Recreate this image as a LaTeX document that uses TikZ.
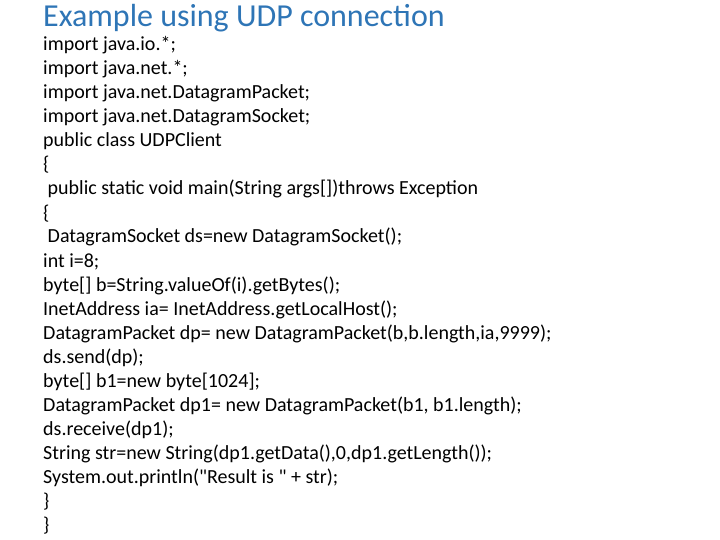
\documentclass[tikz,border=0pt]{standalone}
\usepackage{fontspec}
\setmainfont{Carlito}
\newfontfamily\codefont{Carlito}
\usetikzlibrary{positioning}
\definecolor{titleblue}{RGB}{46,117,182}
\tikzset{
    % slide title
    titletext/.style={anchor=base west, inner sep=0pt, font=\fontsize{32}{34}\selectfont, text=titleblue},
    % one line of code
    codeline/.style={anchor=base west, inner sep=0pt, font=\codefont\fontsize{20}{22}\selectfont, text=black}
}
\begin{document}
\begin{tikzpicture}[x=1pt, y=-1pt]
    \useasboundingbox (0,0) rectangle (720,540);
    \node[titletext] (title) at (43,27) {Example using UDP connection};
    \foreach \txt [count=\i from 0] in {
        {import java.io.*;},
        {import java.net.*;},
        {import java.net.DatagramPacket;},
        {import java.net.DatagramSocket;},
        {public class UDPClient},
        {\{},
        {\ public static void main(String args[])throws Exception},
        {\{},
        {\ DatagramSocket ds=new DatagramSocket();},
        {int i=8;},
        {byte[] b=String.valueOf(i).getBytes();},
        {InetAddress ia= InetAddress.getLocalHost();},
        {DatagramPacket dp= new DatagramPacket(b,b.length,ia,9999);},
        {ds.send(dp);},
        {byte[] b1=new byte[1024];},
        {DatagramPacket dp1= new DatagramPacket(b1, b1.length);},
        {ds.receive(dp1);},
        {String str=new String(dp1.getData(),0,dp1.getLength());},
        {System.out.println("Result is " + str);},
        {\}},
        {\}}}
    {
        \node[codeline] (line\i) at (43,51+24*\i) {\txt};
    }
\end{tikzpicture}
\end{document}
